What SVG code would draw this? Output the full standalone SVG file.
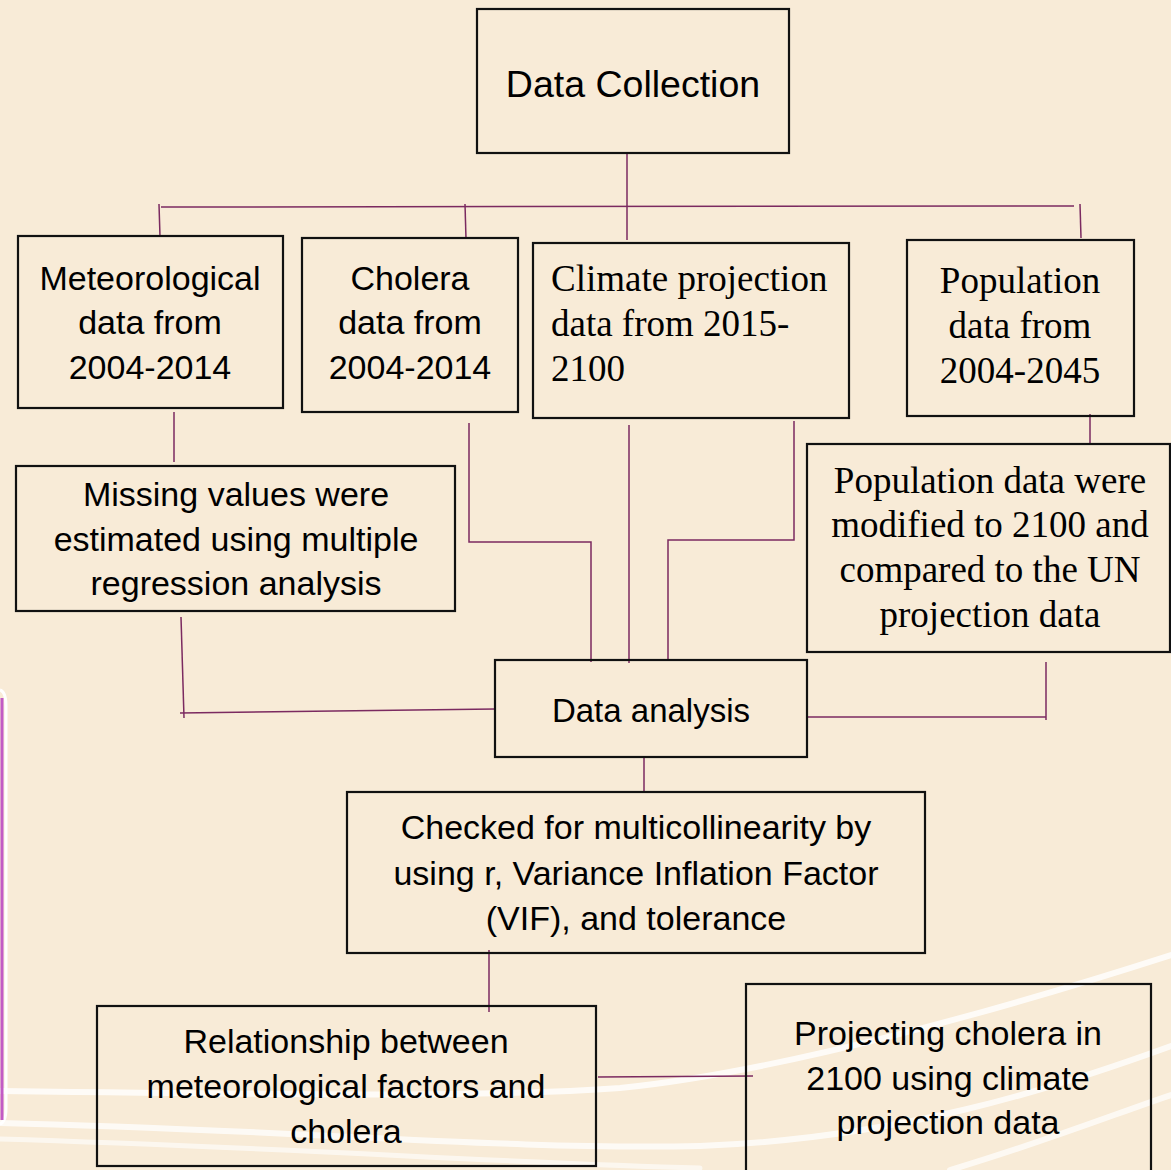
<svg xmlns="http://www.w3.org/2000/svg" width="1171" height="1170" viewBox="0 0 1171 1170">
<style>
.box{fill:none;stroke:#111;stroke-width:2.2}
.s{font-family:"Liberation Sans",Arial,sans-serif;font-size:34px;fill:#000;text-anchor:middle}
.t{font-family:"Liberation Serif","Times New Roman",serif;font-size:37px;fill:#000;text-anchor:middle}
.c{fill:none;stroke:#7B2A60;stroke-width:1.5}
.deco{fill:none;stroke:#fff;stroke-linecap:round}
</style>
<rect width="1171" height="1170" fill="#F8EBD7"/>
<g id="background">
<path class="deco" d="M0,1091 C300,1095 500,1097 620,1088 C780,1072 1000,1010 1171,955" stroke-width="6" opacity="0.8"/>
<path class="deco" d="M0,1123 C300,1130 500,1150 700,1146 C900,1138 1050,1090 1171,1046" stroke-width="6" opacity="0.75"/>
<path class="deco" d="M0,1139 C300,1148 500,1163 700,1168" stroke-width="5" opacity="0.6"/>
<path class="deco" d="M950,1170 C1050,1140 1120,1112 1171,1095" stroke-width="6" opacity="0.7"/>
<path d="M0,690 Q6,692 6,706 L6,1108 Q6,1122 0,1124" fill="none" stroke="#fff" stroke-width="3"/>
<line x1="2" y1="698" x2="2" y2="1120" stroke="#C25BC6" stroke-width="3"/>
</g>
<g id="connectors">
<line class="c" x1="627" y1="153" x2="627" y2="240"/>
<line class="c" x1="161" y1="207" x2="1074" y2="206"/>
<line class="c" x1="159" y1="204" x2="160" y2="237"/>
<line class="c" x1="465" y1="204" x2="466" y2="239"/>
<line class="c" x1="1080" y1="204" x2="1081" y2="238"/>
<line class="c" x1="174" y1="412" x2="174" y2="462"/>
<line class="c" x1="181" y1="617" x2="184" y2="718"/>
<line class="c" x1="180" y1="713" x2="495" y2="709"/>
<polyline class="c" points="469,423 469,542 591,542 591,662"/>
<line class="c" x1="629" y1="425" x2="629" y2="663" stroke-width="2.5"/>
<polyline class="c" points="794,421 794,540 668,540 668,660"/>
<line class="c" x1="1090" y1="414" x2="1090" y2="445"/>
<polyline class="c" points="807,717 1046,717"/>
<line class="c" x1="1046" y1="662" x2="1046" y2="720"/>
<line class="c" x1="644" y1="757" x2="644" y2="791"/>
<line class="c" x1="489" y1="950" x2="489" y2="1012"/>
<line class="c" x1="598" y1="1077" x2="753" y2="1076"/>
</g>
<g id="data-collection">
<rect class="box" x="477" y="9" width="312" height="144"/>
<text class="s" x="633" y="97" style="font-size:37.5px">Data Collection</text>
</g>
<g id="meteorological-data">
<rect class="box" x="18" y="236" width="265" height="172"/>
<text class="s" x="150" y="290">Meteorological</text>
<text class="s" x="150" y="334">data from</text>
<text class="s" x="150" y="379">2004-2014</text>
</g>
<g id="cholera-data">
<rect class="box" x="302" y="238" width="216" height="174"/>
<text class="s" x="410" y="290">Cholera</text>
<text class="s" x="410" y="334">data from</text>
<text class="s" x="410" y="379">2004-2014</text>
</g>
<g id="climate-projection">
<rect class="box" x="533" y="243" width="316" height="175"/>
<text class="t" x="551" y="291" style="text-anchor:start">Climate projection</text>
<text class="t" x="551" y="336" style="text-anchor:start">data from 2015-</text>
<text class="t" x="551" y="381" style="text-anchor:start">2100</text>
</g>
<g id="population-data">
<rect class="box" x="907" y="240" width="227" height="176"/>
<text class="t" x="1020" y="293">Population</text>
<text class="t" x="1020" y="338">data from</text>
<text class="t" x="1020" y="383">2004-2045</text>
</g>
<g id="missing-values">
<rect class="box" x="16" y="466" width="439" height="145"/>
<text class="s" x="236" y="506">Missing values were</text>
<text class="s" x="236" y="551">estimated using multiple</text>
<text class="s" x="236" y="595">regression analysis</text>
</g>
<g id="population-modified">
<rect class="box" x="807" y="444" width="363" height="208"/>
<text class="t" x="990" y="493">Population data were</text>
<text class="t" x="990" y="537">modified to 2100 and</text>
<text class="t" x="990" y="582">compared to the UN</text>
<text class="t" x="990" y="627">projection data</text>
</g>
<g id="data-analysis">
<rect class="box" x="495" y="660" width="312" height="97"/>
<text class="s" x="651" y="722" style="font-size:33px">Data analysis</text>
</g>
<g id="multicollinearity">
<rect class="box" x="347" y="792" width="578" height="161"/>
<text class="s" x="636" y="839">Checked for multicollinearity by</text>
<text class="s" x="636" y="885">using r, Variance Inflation Factor</text>
<text class="s" x="636" y="930">(VIF), and tolerance</text>
</g>
<g id="relationship">
<rect class="box" x="97" y="1006" width="499" height="160"/>
<text class="s" x="346" y="1053">Relationship between</text>
<text class="s" x="346" y="1098">meteorological factors and</text>
<text class="s" x="346" y="1143">cholera</text>
</g>
<g id="projecting">
<rect class="box" x="746" y="984" width="405" height="190"/>
<text class="s" x="948" y="1045">Projecting cholera in</text>
<text class="s" x="948" y="1090">2100 using climate</text>
<text class="s" x="948" y="1134">projection data</text>
</g>
</svg>
